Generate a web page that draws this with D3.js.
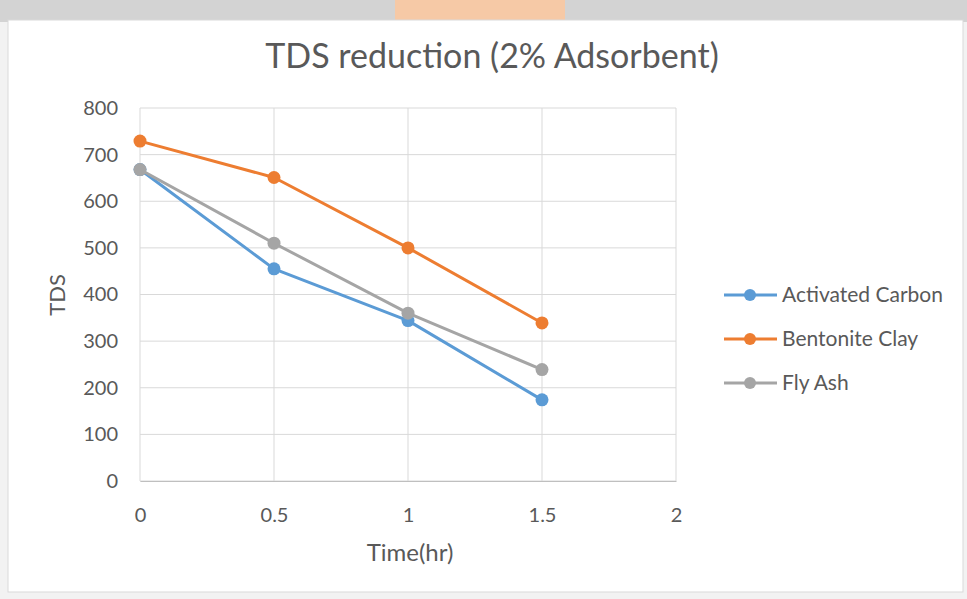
<!DOCTYPE html>
<html><head><meta charset="utf-8">
<script src="https://cdn.jsdelivr.net/npm/d3@7/dist/d3.min.js"></script>
<style>body{margin:0;background:#fff}svg{display:block}</style>
</head><body>
<script>
const times = [0, 0.5, 1, 1.5];
const activatedCarbon = [668, 455, 344, 174];
const bentoniteClay = [729, 651, 500, 339];
const flyAsh = [668, 510, 360, 239];
const seriesNames = ["Activated Carbon", "Bentonite Clay", "Fly Ash"];
const seriesColors = ["#5B9BD5", "#ED7D31", "#A5A5A5"];
const xTicks = [0, 0.5, 1, 1.5, 2];
const yTicks = [0, 100, 200, 300, 400, 500, 600, 700, 800];

const W = 967, H = 599;
const font = "Lato, 'Open Sans', sans-serif";
const svg = d3.select("body").append("svg").attr("width", W).attr("height", H);

// page background / watermark band
svg.append("rect").attr("x",0).attr("y",0).attr("width",W).attr("height",H).attr("fill","#f2f2f2");
svg.append("rect").attr("x",0).attr("y",0).attr("width",W).attr("height",22).attr("fill","#d3d3d3");
svg.append("rect").attr("x",395).attr("y",0).attr("width",170).attr("height",22).attr("fill","#f6c9a6");
svg.append("rect").attr("x",8).attr("y",20).attr("width",955).attr("height",572).attr("fill","#fff").attr("stroke","#d9d9d9");

const x = d3.scaleLinear().domain([0, 2]).range([140, 676]);
const y = d3.scaleLinear().domain([0, 800]).range([481, 108]);

// gridlines
svg.append("g").selectAll("line").data(yTicks).join("line")
  .attr("x1", x(0)).attr("x2", x(2)).attr("y1", d=>y(d)).attr("y2", d=>y(d))
  .attr("stroke", "#d9d9d9").attr("stroke-width", 1);
svg.append("g").selectAll("line").data(xTicks).join("line")
  .attr("y1", y(0)).attr("y2", y(800)).attr("x1", d=>x(d)).attr("x2", d=>x(d))
  .attr("stroke", "#d9d9d9").attr("stroke-width", 1);

// axes
const yAxis = d3.axisLeft(y).tickValues(yTicks).tickSize(0).tickPadding(22);
const gy = svg.append("g").attr("transform", `translate(${x(0)},0)`).call(yAxis);
gy.select(".domain").remove();
gy.selectAll("text").attr("font-family", font).attr("font-size", 20).attr("fill", "#595959");

const xAxis = d3.axisBottom(x).tickValues(xTicks).tickSize(0).tickPadding(27).tickFormat(d3.format("~g"));
const gx = svg.append("g").attr("transform", `translate(0,${y(0)})`).call(xAxis);
gx.select(".domain").attr("stroke", "#bfbfbf");
gx.selectAll("text").attr("font-family", font).attr("font-size", 20).attr("fill", "#595959");

// titles
svg.append("text").attr("x", 492).attr("y", 68).attr("text-anchor", "middle")
  .attr("font-family", font).attr("font-size", 34).attr("fill", "#595959").text("TDS reduction (2% Adsorbent)");
svg.append("text").attr("x", 410).attr("y", 561).attr("text-anchor", "middle")
  .attr("font-family", font).attr("font-size", 24).attr("fill", "#595959").text("Time(hr)");
svg.append("text").attr("transform", "translate(65,295) rotate(-90)").attr("text-anchor", "middle")
  .attr("font-family", font).attr("font-size", 22).attr("fill", "#595959").text("TDS");

// series
const data = [activatedCarbon, bentoniteClay, flyAsh];
const line = d3.line().x((d,i)=>x(times[i])).y(d=>y(d));
data.forEach((vals, k) => {
  svg.append("path").datum(vals).attr("d", line).attr("fill", "none")
    .attr("stroke", seriesColors[k]).attr("stroke-width", 3).attr("stroke-linejoin","round");
  svg.append("g").selectAll("circle").data(vals).join("circle")
    .attr("cx", (d,i)=>x(times[i])).attr("cy", d=>y(d)).attr("r", 6.5).attr("fill", seriesColors[k]);
});

// legend
const lg = svg.append("g");
seriesNames.forEach((n, k) => {
  const ly = 295 + k*44;
  lg.append("line").attr("x1", 724).attr("x2", 777).attr("y1", ly).attr("y2", ly)
    .attr("stroke", seriesColors[k]).attr("stroke-width", 3);
  lg.append("circle").attr("cx", 750).attr("cy", ly).attr("r", 6).attr("fill", seriesColors[k]);
  lg.append("text").attr("x", 782).attr("y", ly).attr("dy", "0.35em")
    .attr("font-family", font).attr("font-size", 21).attr("fill", "#595959").text(n);
});
</script>
</body></html>
